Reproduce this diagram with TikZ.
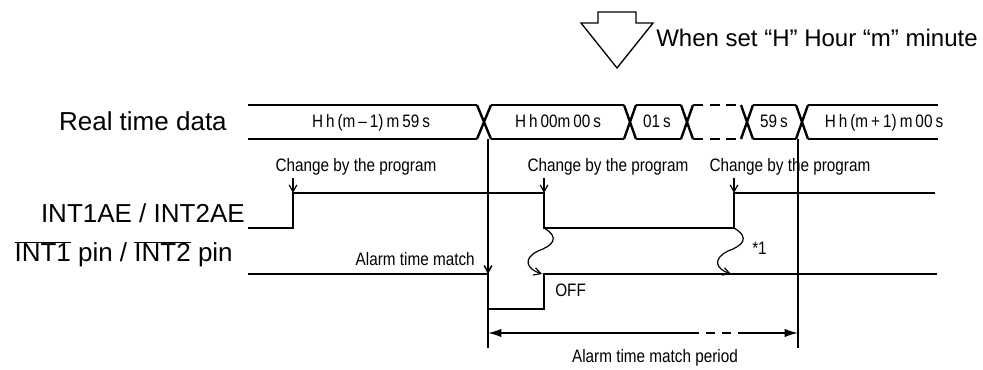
\documentclass[tikz,border=0pt]{standalone}
\usepackage{fontspec}
\setmainfont{Liberation Sans}
\newfontfamily\narrowfont[FakeStretch=0.85]{Liberation Sans}
\usetikzlibrary{positioning,arrows.meta}

\begin{document}
\begin{tikzpicture}[x=0.75pt, y=-0.75pt, every node/.style={inner sep=0pt},
  lbl/.style={font=\fontsize{19.5}{22}\selectfont},
  sm/.style={font=\narrowfont\fontsize{13.5}{15}\selectfont},
  sig/.style={line width=2pt, line join=miter},
  bus/.style={line width=1.8pt, rounded corners=2pt},
  ln/.style={line width=1.2pt},
  a/.style={-{Straight Barb[length=1.8mm,width=2mm]}, line width=0.9pt},
  per/.style={line width=1.2pt}]
\useasboundingbox (0,0) rectangle (983,370);
% set arrow
\draw[line width=1pt, line join=miter] (598,12) -- (636,12) -- (636,23) -- (653,23) -- (617,68) -- (581,23) -- (598,23) -- cycle;
\node[anchor=base west, font=\fontsize{18}{20}\selectfont] (set) at (656,47) {When set “H” Hour “m” minute};
% signal names
\node[lbl, anchor=base east] (rtd) at (227,131) {Real time data};
\node[lbl, anchor=base east] (ae) at (245,223) {INT1AE / INT2AE};
\node[lbl, anchor=base east] (pin) at (233,262) {$\overline{\mbox{INT1}}$ pin / $\overline{\mbox{INT2}}$ pin};
% real time data bus
\foreach \l/\r in {248/477, 491/624, 636/681, 753/796, 808/938}
  \draw[bus] (\l,105) -- (\r,105) (\l,139) -- (\r,139);
\foreach \l/\r in {477/491, 624/636, 681/693, 741/753, 796/808}
  \draw[bus] (\l,105) -- (\r,139) (\l,139) -- (\r,105);
\draw[bus, dash pattern=on 7.5pt off 5pt] (693,105) -- (741,105) (693,139) -- (741,139);
\node[sm, anchor=base] (d0) at (371,128) {H\,h\,(m\,–\,1)\,m\,59\,s};
\node[sm, anchor=base] (d1) at (558,128) {H\,h\,00m\,00\,s};
\node[sm, anchor=base] (d2) at (657,128) {01\,s};
\node[sm, anchor=base] (d3) at (774,128) {59\,s};
\node[sm, anchor=base] (d4) at (884,128) {H\,h\,(m\,+\,1)\,m\,00\,s};
% INT1AE / INT2AE
\draw[sig] (248,228) -- (293,228) -- (293,193) -- (544,193) -- (544,228) -- (734,228) -- (734,193) -- (935,193);
% INT pin
\draw[sig] (248,274) -- (488,274) -- (488,309) -- (544,309) -- (544,274) -- (937,274);
\coordinate (en) at (293,193);
\coordinate (dis) at (544,193);
\coordinate (ren) at (734,193);
\coordinate (disl) at (544,228);
\coordinate (renl) at (734,228);
\coordinate (off) at (542,274);
\coordinate (stay) at (731,274);
\coordinate (match) at (488,274);
% program writes
\node[sm, anchor=base] (chg1) at (356,172) {Change by the program};
\node[sm, anchor=base] (chg2) at (608,172) {Change by the program};
\node[sm, anchor=base] (chg3) at (790,172) {Change by the program};
\draw[a] (chg1.south -| en) ++(0,2) -- (en);
\draw[a] (chg2.south -| dis) ++(0,2) -- (dis);
\draw[a] (chg3.south -| ren) ++(0,2) -- (ren);
% wavy arrows
\draw[a] (disl) .. controls (561,238) and (552,246) .. (538,251) .. controls (522,259) and (527,269) .. (off);
\draw[a] (renl) .. controls (751,238) and (742,246) .. (728,251) .. controls (712,259) and (716,269) .. (stay);
\node[sm, anchor=base west] (note) at (752,255) {*1};
% alarm match
\draw[ln, -{Straight Barb[length=1.8mm,width=2mm]}] (488,139) -- (match);
\draw[ln] (match) -- (488,348);
\draw[ln] (798,139) -- (798,348);
\node[sm, anchor=base east] (am) at (475,266) {Alarm time match};
\node[sm, anchor=base west] (offt) at (555,297) {OFF};
% period
\coordinate (p0) at (488,333);
\coordinate (p1) at (690,333);
\coordinate (p2) at (745,333);
\coordinate (p3) at (798,333);
\draw[per, {Latex[length=3.5mm,width=2.2mm]}-] (p0) -- (p1);
\draw[per, dash pattern=on 7pt off 5pt] (p1) -- (p2);
\draw[per, -{Latex[length=3.5mm,width=2.2mm]}] (p2) -- (p3);
\node[sm, anchor=base] (amp) at (655,363) {Alarm time match period};
\end{tikzpicture}
\end{document}
